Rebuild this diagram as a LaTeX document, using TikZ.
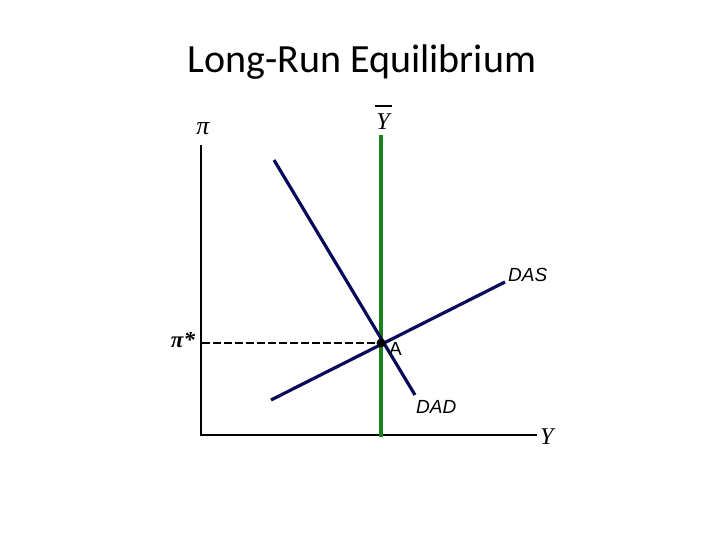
\documentclass[tikz,border=0pt]{standalone}
\usepackage{fontspec}
\setmainfont{Liberation Serif}
\setsansfont{Liberation Sans}
\newfontfamily\titlefont{Carlito}
\begin{document}
\begin{tikzpicture}[x=1pt,y=-1pt,
  axis/.style={line width=2pt,black},
  curve/.style={line width=3.2pt,color=navyc},
  lbl/.style={inner sep=0pt},
  curvelbl/.style={inner sep=0pt,font=\sffamily\itshape\fontsize{19}{21}\selectfont}]
\definecolor{navyc}{RGB}{10,10,90}
\definecolor{greenc}{RGB}{25,130,25}
\useasboundingbox (0,0) rectangle (720,540);
\node[lbl,font=\titlefont\fontsize{40}{44}\selectfont] (title) at (362,62) {Long-Run Equilibrium};
% axes
\coordinate (o) at (201,435);
\coordinate (ytop) at (201,145);
\coordinate (xend) at (537,435);
\draw[axis] (ytop) -- (o) -- (xend);
\node[lbl,font=\itshape\fontsize{26}{28}\selectfont] (pi) at (203,129) {π};
\node[lbl,font=\itshape\fontsize{24}{26}\selectfont,anchor=west] (Y) at (540,437) {Y};
% long-run output
\coordinate (gtop) at (381,135);
\coordinate (gbot) at (381,437);
\draw[line width=4pt,greenc] (gtop) -- (gbot);
\node[lbl,font=\itshape\fontsize{24}{26}\selectfont] (Ybar) at (383,122) {Y};
\coordinate (bl) at (375,106);
\coordinate (br) at (392,106);
\draw[line width=1.2pt] (bl) -- (br);
% curves
\coordinate (dad1) at (274,160);
\coordinate (dad2) at (415,395);
\draw[curve] (dad1) -- (dad2);
\coordinate (das1) at (271,400);
\coordinate (das2) at (505,282);
\draw[curve] (das1) -- (das2);
\node[curvelbl,anchor=west] (daslbl) at (508,275) {DAS};
\node[curvelbl,anchor=west] (dadlbl) at (416,407) {DAD};
% equilibrium
\node[circle,fill=black,inner sep=0pt,minimum size=9pt] (A) at (381,343) {};
\coordinate (pistar) at (202,343);
\draw[line width=1.3pt,dash pattern=on 8pt off 3pt] (pistar) -- (A);
\node[lbl,font=\sffamily\fontsize{19}{21}\selectfont,anchor=west] (Alabel) at (389,349) {A};
\node[lbl,font=\bfseries\itshape\fontsize{23}{25}\selectfont] (pistarlbl) at (183,340) {π*};
\end{tikzpicture}
\end{document}
